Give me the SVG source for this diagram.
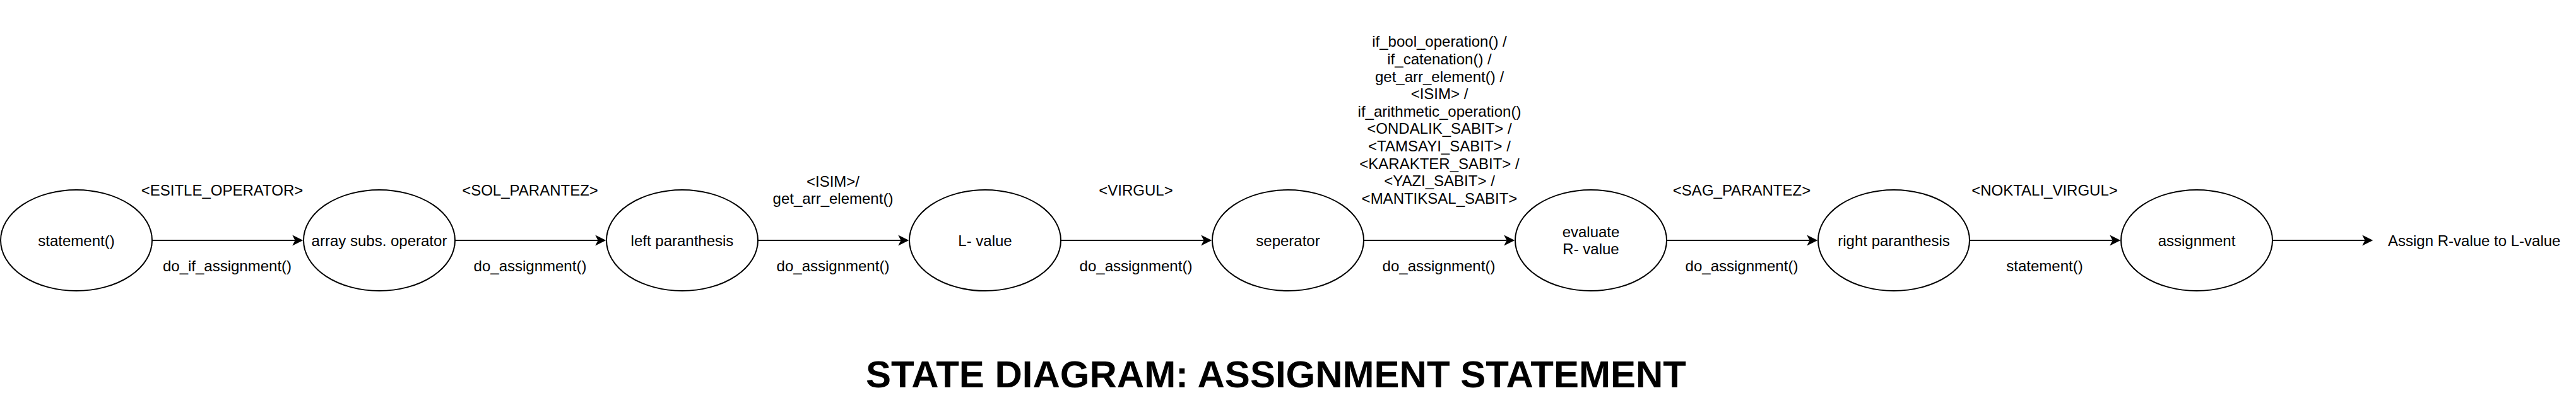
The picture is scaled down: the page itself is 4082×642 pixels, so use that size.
<svg xmlns="http://www.w3.org/2000/svg" width="4082" height="642" viewBox="0 0 4082 642">
<style>
.st ellipse{fill:#fff;stroke:#000;stroke-width:2}
text{font-family:"Liberation Sans",Arial,sans-serif;font-size:24px;fill:#000;text-anchor:middle}
.edge{stroke:#000;stroke-width:2;fill:none;marker-end:url(#arr)}
.title{font-size:60px;font-weight:bold}
</style>
<defs>
<marker id="arr" markerUnits="userSpaceOnUse" viewBox="-6 -10 20 20" refX="0" refY="0" markerWidth="20" markerHeight="20" orient="auto">
<path d="M12.75,0 L-4.25,-8.5 L0,0 L-4.25,8.5 Z" fill="#000"/>
</marker>
</defs>
<rect width="4082" height="642" fill="#fff"/>
<g id="connectors">
<path class="edge" d="M241,381 H467.5"/>
<path class="edge" d="M721,381 H947.5"/>
<path class="edge" d="M1201,381 H1427.5"/>
<path class="edge" d="M1681,381 H1907.5"/>
<path class="edge" d="M2161,381 H2387.5"/>
<path class="edge" d="M2641,381 H2867.5"/>
<path class="edge" d="M3121,381 H3347.5"/>
<path class="edge" d="M3601,381 H3747.5"/>
<text x="352" y="310">&lt;ESITLE_OPERATOR&gt;</text>
<text x="360" y="430">do_if_assignment()</text>
<text x="840" y="310">&lt;SOL_PARANTEZ&gt;</text>
<text x="840" y="430">do_assignment()</text>
<text x="1320" y="295.5">&lt;ISIM&gt;/</text>
<text x="1320" y="323.1">get_arr_element()</text>
<text x="1320" y="430">do_assignment()</text>
<text x="1800" y="310">&lt;VIRGUL&gt;</text>
<text x="1800" y="430">do_assignment()</text>
<text x="2281" y="74.3">if_bool_operation() /</text>
<text x="2281" y="101.9">if_catenation() /</text>
<text x="2281" y="129.5">get_arr_element() /</text>
<text x="2281" y="157.1">&lt;ISIM&gt; /</text>
<text x="2281" y="184.7">if_arithmetic_operation()</text>
<text x="2281" y="212.3">&lt;ONDALIK_SABIT&gt; /</text>
<text x="2281" y="239.9">&lt;TAMSAYI_SABIT&gt; /</text>
<text x="2281" y="267.5">&lt;KARAKTER_SABIT&gt; /</text>
<text x="2281" y="295.1">&lt;YAZI_SABIT&gt; /</text>
<text x="2281" y="322.7">&lt;MANTIKSAL_SABIT&gt;</text>
<text x="2280" y="430">do_assignment()</text>
<text x="2760" y="310">&lt;SAG_PARANTEZ&gt;</text>
<text x="2760" y="430">do_assignment()</text>
<text x="3240" y="310">&lt;NOKTALI_VIRGUL&gt;</text>
<text x="3240" y="430">statement()</text>
</g>
<g id="n-statement" class="st"><ellipse cx="121" cy="381" rx="120" ry="80"/><text x="121" y="389.5">statement()</text></g>
<g id="n-array" class="st"><ellipse cx="601" cy="381" rx="120" ry="80"/><text x="601" y="389.5">array subs. operator</text></g>
<g id="n-leftpar" class="st"><ellipse cx="1081" cy="381" rx="120" ry="80"/><text x="1081" y="389.5">left paranthesis</text></g>
<g id="n-lvalue" class="st"><ellipse cx="1561" cy="381" rx="120" ry="80"/><text x="1561" y="389.5">L- value</text></g>
<g id="n-seperator" class="st"><ellipse cx="2041" cy="381" rx="120" ry="80"/><text x="2041" y="389.5">seperator</text></g>
<g id="n-evaluate" class="st"><ellipse cx="2521" cy="381" rx="120" ry="80"/><text x="2521" y="375.7">evaluate</text><text x="2521" y="403.3">R- value</text></g>
<g id="n-rightpar" class="st"><ellipse cx="3001" cy="381" rx="120" ry="80"/><text x="3001" y="389.5">right paranthesis</text></g>
<g id="n-assignment" class="st"><ellipse cx="3481" cy="381" rx="120" ry="80"/><text x="3481" y="389.5">assignment</text></g>
<g id="n-final"><text x="3784" y="389.5" style="text-anchor:start">Assign R-value to L-value</text></g>
<g id="title"><text class="title" x="2022" y="614">STATE DIAGRAM: ASSIGNMENT STATEMENT</text></g>
</svg>
